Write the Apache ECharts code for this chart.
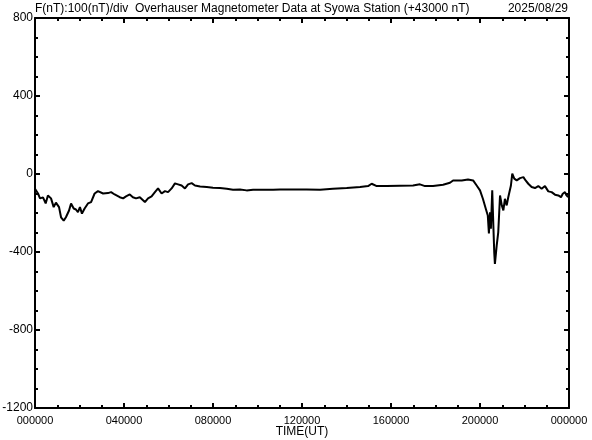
<!DOCTYPE html>
<html>
<head>
<meta charset="utf-8">
<script src="https://cdn.jsdelivr.net/npm/echarts@6/dist/echarts.min.js"></script>
<style>
html,body{margin:0;padding:0;background:#fff;}
#chart{width:592px;height:440px;}
</style>
</head>
<body>
<div id="chart"></div>
<script>
// Time in hours UT
const timeHours = [0,0.135,0.225,0.36,0.48,0.58,0.72,0.84,0.94,1.08,1.17,1.29,1.39,1.53,1.62,1.74,1.84,1.93,2.02,2.11,2.23,2.38,2.52,2.68,2.83,3.06,3.28,3.42,3.58,3.81,3.96,4.09,4.26,4.40,4.54,4.71,4.94,5.08,5.24,5.39,5.53,5.69,5.84,5.98,6.14,6.29,6.43,6.59,6.74,6.88,7.04,7.19,7.42,7.72,8.0,8.31,8.62,8.9,9.21,9.51,9.8,10.11,10.41,10.7,11.01,11.6,12.21,12.81,13.39,14.01,14.61,14.97,15.13,15.36,15.81,16.40,16.99,17.30,17.53,17.89,18.34,18.65,18.79,19.18,19.46,19.69,19.85,20.0,20.13,20.26,20.35,20.40,20.45,20.49,20.55,20.60,20.64,20.67,20.75,20.82,20.90,20.98,21.05,21.12,21.20,21.27,21.39,21.45,21.54,21.65,21.80,21.95,22.05,22.17,22.32,22.47,22.62,22.77,22.92,23.07,23.22,23.37,23.52,23.64,23.72,23.82,23.89,23.96];
// F - 43000 nT
const fValues = [-76,-100,-125,-120,-151,-110,-125,-170,-147,-170,-222,-239,-222,-187,-151,-177,-182,-196,-170,-203,-177,-151,-144,-100,-88,-100,-98,-93,-105,-119,-125,-115,-105,-119,-125,-119,-144,-125,-115,-93,-74,-100,-88,-93,-74,-48,-53,-59,-74,-53,-47,-59,-64,-67,-70,-72,-76,-81,-79,-84,-81,-81,-81,-81,-79,-79,-79,-81,-76,-72,-67,-62,-50,-62,-62,-60,-59,-53,-62,-62,-55,-45,-33,-33,-28,-33,-59,-84,-127,-178,-213,-305,-196,-280,-84,-264,-402,-461,-367,-299,-110,-161,-187,-127,-161,-119,-59,2,-24,-33,-21,-16,-33,-50,-67,-72,-62,-76,-62,-89,-93,-106,-110,-119,-101,-93,-110,-119];
const xTickLabels = ['000000','040000','080000','120000','160000','200000','000000'];
const yTickValues = [-1200,-800,-400,0,400,800];
const titleText = 'F(nT):100(nT)/div  Overhauser Magnetometer Data at Syowa Station (+43000 nT)';
const dateText = '2025/08/29';
const xAxisName = 'TIME(UT)';

const seriesData = timeHours.map((t, i) => [t, fValues[i]]);
const font = 'Liberation Sans';
const axisLine = {show: true, onZero: false, lineStyle: {color: '#000', width: 2}};
const tick = {show: true, inside: true, length: 5, lineStyle: {color: '#000', width: 2}};
const minor = {show: true, splitNumber: 4, length: 3, lineStyle: {color: '#000', width: 2}};

const chart = echarts.init(document.getElementById('chart'), null, {renderer: 'canvas'});
chart.setOption({
  animation: false,
  backgroundColor: '#fff',
  grid: {left: 35, right: 23, top: 18, bottom: 32, containLabel: false, outerBoundsMode: 'none'},
  graphic: [
    {type: 'text', left: 35, top: 3, style: {text: titleText, font: '12px "' + font + '"', fill: '#000'}},
    {type: 'text', right: 24, top: 3, style: {text: dateText, font: '12px "' + font + '"', fill: '#000'}}
  ],
  xAxis: [
    {
      type: 'value', min: 0, max: 24, interval: 4, position: 'bottom',
      axisLine: axisLine, axisTick: tick, minorTick: minor,
      splitLine: {show: false}, minorSplitLine: {show: false},
      axisLabel: {
        show: true, margin: 7, color: '#000', fontFamily: font, fontSize: 11,
        formatter: v => xTickLabels[Math.round(v / 4)]
      },
      name: xAxisName, nameLocation: 'middle', nameGap: 18, nameMoveOverlap: false,
      nameTextStyle: {color: '#000', fontFamily: font, fontSize: 12, verticalAlign: 'top'}
    },
    {
      type: 'value', min: 0, max: 24, interval: 4, position: 'top',
      axisLine: axisLine, axisTick: tick, minorTick: minor,
      splitLine: {show: false}, axisLabel: {show: false}
    }
  ],
  yAxis: [
    {
      type: 'value', min: yTickValues[0], max: yTickValues[yTickValues.length - 1], interval: 400, position: 'left',
      axisLine: axisLine, axisTick: tick, minorTick: minor,
      splitLine: {show: false}, minorSplitLine: {show: false},
      axisLabel: {show: true, margin: 2, color: '#000', fontFamily: font, fontSize: 12, formatter: v => String(v)}
    },
    {
      type: 'value', min: yTickValues[0], max: yTickValues[yTickValues.length - 1], interval: 400, position: 'right',
      axisLine: axisLine, axisTick: tick, minorTick: minor,
      splitLine: {show: false}, axisLabel: {show: false}
    }
  ],
  series: [{
    type: 'line', data: seriesData, xAxisIndex: 0, yAxisIndex: 0,
    showSymbol: false, symbol: 'none',
    lineStyle: {color: '#000', width: 2}
  }]
});
</script>
</body>
</html>
